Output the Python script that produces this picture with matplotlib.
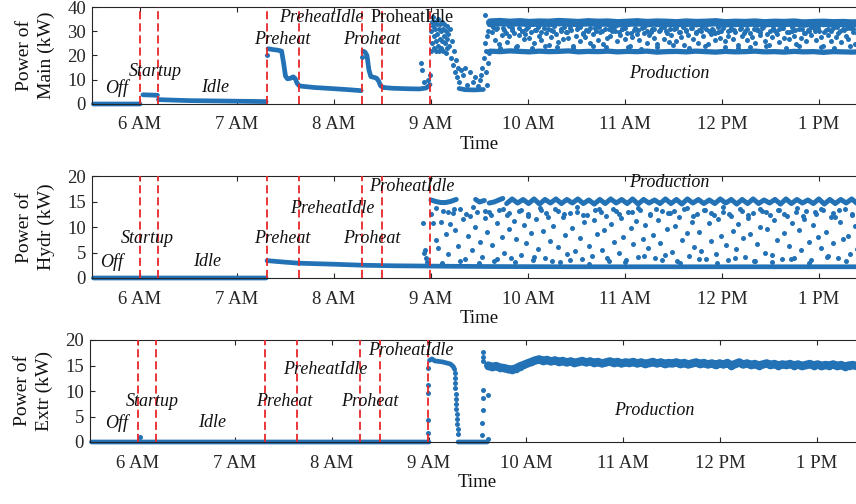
import numpy as np
import matplotlib
matplotlib.use('Agg')
import matplotlib.pyplot as plt

plt.rcParams['font.family'] = ['Liberation Serif', 'DejaVu Serif']

nan = np.nan
blue = '#2372b6'
red = '#e8262b'

# phase boundaries in hours of the day
phase_edges = [6.0, 6.19, 7.31, 7.64, 8.29, 8.495, 8.99]
tick_hours = [6, 7, 8, 9, 10, 11, 12, 13]
tick_names = ['6 AM', '7 AM', '8 AM', '9 AM', '10 AM', '11 AM', '12 PM', '1 PM']
phase_names = ['Off', 'Startup', 'Idle', 'Preheat', 'PreheatIdle', 'Proheat', 'ProheatIdle', 'Production']

# ---------------- Main ----------------
main_trace_t = [5.52, 6.0, nan, 6.03, 6.18, nan, 6.19, 6.5, 6.9, 7.30, nan,
                7.32, 7.36, 7.42, 7.46, 7.48, 7.50, 7.52, 7.55, 7.58, 7.60, 7.62, 7.64, nan,
                7.65, 7.8, 8.0, 8.15, 8.28, nan,
                8.30, 8.32, 8.34, 8.36, 8.38, 8.42, 8.44, 8.46, 8.48, 8.50, nan,
                8.51, 8.6, 8.75, 8.88, 8.95, 8.99, nan,
                9.29, 9.35, 9.45, 9.54]
main_trace_v = [0, 0, nan, 3.8, 3.6, nan, 1.8, 1.4, 1.2, 1.0, nan,
                22.8, 22.5, 22.2, 21.8, 17, 11.5, 10.4, 10.6, 11.2, 10.5, 8.5, 7.6, nan,
                7.4, 6.8, 6.3, 5.9, 5.5, nan,
                21.8, 21.4, 20.0, 14, 11.3, 10.9, 10.6, 9.5, 7.5, 7.0, nan,
                6.8, 6.5, 6.3, 6.2, 6.6, 8.0, nan,
                6.4, 5.9, 5.8, 6.0]
main_pts_t = [7.31, 8.29, 8.90, 8.91, 8.93, 8.97, 8.99,
              9.00, 9.00, 9.01, 9.01, 9.02, 9.02, 9.03, 9.03, 9.04, 9.04, 9.05, 9.05, 9.06, 9.06,
              9.07, 9.07, 9.08, 9.08, 9.09, 9.09, 9.10, 9.10, 9.11, 9.11, 9.12, 9.12, 9.13, 9.13,
              9.14, 9.15, 9.15, 9.16, 9.17, 9.17, 9.18, 9.19, 9.20, 9.21, 9.22, 9.23, 9.24, 9.25,
              9.26, 9.27, 9.28, 9.29, 9.31, 9.33, 9.35, 9.37, 9.40, 9.43, 9.45, 9.48, 9.50, 9.52,
              9.53, 9.55, 9.555, 9.56, 9.565, 9.57, 9.575, 9.58, 9.585, 9.59, 9.595, 9.60]
main_pts_v = [20.0, 19.5, 17, 14, 9, 10, 12,
              22, 30, 34, 25, 36, 32, 28, 23, 34, 31, 26, 22, 33, 29,
              24, 35, 31, 22, 27, 33, 30, 23, 34, 26, 31, 22, 28, 33,
              25, 30, 21, 27, 32, 23, 29, 24, 31, 19, 26, 16, 22, 13,
              18, 11, 15, 9, 14, 12, 15, 8, 13, 9, 11, 7.5, 10, 12,
              15, 19, 36.5, 25, 22, 13, 8, 28, 17, 30, 21, 33]
main_top_v = [33.6, 33.8, 33.5, 33.7, 33.4, 33.6, 33.5, 33.8, 33.6, 33.4,
              33.7, 33.5, 33.6, 33.3, 33.5, 33.7, 33.4, 33.6, 33.5, 33.3,
              33.6, 33.4, 33.5, 33.7, 33.3, 33.5, 33.4, 33.6, 33.3, 33.5,
              33.4, 33.6, 33.2, 33.4, 33.5, 33.3, 33.4, 33.2, 33.4]
main_low_v = [21.8, 21.6, 21.9, 21.7, 21.5, 21.8, 21.6, 21.7, 21.9, 21.5,
              21.7, 21.6, 21.8, 21.5, 21.7, 21.6, 21.8, 21.4, 21.6, 21.7,
              21.5, 21.8, 21.6, 21.4, 21.7, 21.5, 21.6, 21.8, 21.5, 21.6,
              21.4, 21.7, 21.5, 21.6, 21.3, 21.6, 21.5, 21.4, 21.6]
main_mid_v = [29.8, 26.5, 31.2, 24.6, 28.3, 30.7, 25.4, 27.9, 31.5, 29.1,
              23.9, 28.6, 30.2, 26.8, 31.0, 27.3, 29.6, 25.1, 30.5, 28.0,
              26.2, 31.4, 29.3, 24.4, 27.7, 30.1, 28.8, 25.7, 31.1, 26.9,
              29.5, 27.1, 30.6, 24.1, 28.2, 31.6, 26.0, 29.0, 27.6, 30.3,
              25.2, 28.7, 31.3, 26.4, 29.7, 24.8, 30.8, 27.2, 28.1, 31.5,
              30.0, 25.9, 28.4, 31.0, 26.6, 29.4, 23.8, 27.8, 30.4, 28.9,
              26.3, 31.2, 29.2, 25.0, 28.5, 30.9, 27.4, 24.7, 29.9, 31.4,
              27.0, 30.1, 25.6, 28.6, 31.1, 26.1, 29.8, 27.5, 24.3, 30.6,
              28.3, 31.5, 26.7, 29.1, 25.3, 30.2, 27.9, 31.0, 24.9, 28.8,
              30.7, 26.2, 29.5, 27.2, 31.3, 25.8, 28.1, 30.4, 26.9, 29.6,
              24.5, 31.1, 28.0, 30.0, 26.5, 29.3, 27.7, 25.1, 30.8, 28.4,
              31.4, 26.0, 29.0, 24.2, 27.6, 30.5, 28.7, 25.5, 31.2, 27.1,
              29.7, 26.8, 30.3, 28.2, 24.7, 31.0, 27.3, 29.4, 25.9, 30.1,
              28.6, 31.5, 26.4, 29.9, 27.8, 24.0, 30.6, 28.3, 26.1, 31.2,
              27.5, 29.2, 25.4, 30.9, 28.0, 26.7, 31.3, 29.6, 24.6, 28.9]
main_mid2_v = [31.8, 30.9, 23.2, 31.5, 29.4, 32.0, 30.6, 23.6, 31.2, 30.2,
               29.0, 31.7, 22.9, 30.4, 31.9, 29.8, 24.1, 31.0, 30.7, 32.1,
               23.4, 30.1, 31.6, 29.6, 31.3, 23.0, 30.8, 31.9, 29.2, 30.5,
               31.4, 24.0, 30.0, 31.8, 29.9, 23.3, 31.1, 30.3, 32.0, 29.5,
               30.9, 31.5, 23.7, 29.3, 31.2, 30.6, 22.8, 31.7, 30.2, 29.7,
               31.0, 23.5, 30.4, 31.9, 29.1, 30.8, 24.2, 31.3, 29.8, 31.6,
               30.1, 23.1, 31.4, 29.6, 30.7, 31.8, 23.8, 30.3, 31.1, 29.4,
               31.7, 30.0, 23.4, 29.9, 31.5, 30.5, 22.9, 31.2, 29.3, 30.9,
               23.6, 31.0, 30.6, 29.5, 31.8, 24.0, 30.2, 31.4, 29.7, 30.8,
               31.3, 23.2, 29.8, 31.6, 30.4, 23.9, 31.1, 29.2, 30.7, 31.9,
               30.3, 31.5, 23.5, 29.6, 31.0, 30.1, 23.0, 31.7, 29.9, 30.5,
               31.2, 24.1, 30.8, 29.4, 31.6]

# ---------------- Hydr ----------------
hydr_trace_t = [5.52, 7.30, nan, 7.31, 7.5, 7.64, 8.0, 8.3, 8.6, 8.9, 9.2, 9.6, 10.5, 11.5, 12.5, 13.5]
hydr_trace_v = [0, 0, nan, 3.4, 3.1, 2.9, 2.7, 2.5, 2.4, 2.35, 2.3, 2.25, 2.2, 2.2, 2.2, 2.2]
hydr_top_a_t = [9.0, 9.05, 9.10, 9.15, 9.20, 9.26, nan, 9.46, 9.50, 9.55, nan, 9.60, 9.65, 9.70, 9.74]
hydr_top_a_v = [15.3, 15.0, 14.8, 14.8, 15.0, 15.4, nan, 15.4, 14.9, 15.2, nan, 14.7, 14.9, 15.3, 15.6]
hydr_top_v = [14.6, 15.5, 14.7, 15.4, 14.6, 15.5, 14.5, 15.4, 14.7, 15.5,
              14.6, 15.4, 14.7, 15.5, 14.6, 15.3, 14.5, 15.4, 14.6, 15.5,
              14.7, 15.4, 14.6, 15.5, 14.5, 15.4, 14.7, 15.3, 14.6, 15.5,
              14.6, 15.4, 14.5, 15.5, 14.7, 15.4, 14.6, 15.3, 14.6, 15.5,
              14.7, 15.4, 14.5, 15.4, 14.6, 15.5, 14.6, 15.3, 14.7, 15.4,
              14.5, 15.5, 14.6, 15.4, 14.7, 15.3, 14.6, 15.5, 14.5, 15.4,
              14.6, 15.4, 14.7, 15.5, 14.6, 15.3]
hydr_pts_t = [8.92, 8.93, 8.94, 8.95, 8.96]
hydr_pts_v = [10.8, 5.0, 5.5, 4.0, 3.2]
hydr_mid_v = [12.5, 10.8, 7.5, 5.9, 11.0, 13.2, 8.6, 4.8, 10.5, 12.8,
              9.5, 6.2, 13.5, 11.6, 3.8, 8.2, 12.1, 5.4, 10.0, 13.0,
              7.1, 4.2, 11.8, 9.0, 12.9, 6.5, 3.4, 10.7, 13.4, 8.0,
              5.0, 12.3, 9.7, 3.9, 11.2, 7.6, 13.1, 4.5, 10.3, 6.8,
              12.6, 8.9, 3.5, 11.5, 5.7, 13.3, 9.2, 4.0, 12.0, 7.3,
              10.1, 13.6, 6.0, 3.2, 11.9, 8.4, 4.7, 12.7, 9.8, 5.2,
              13.0, 7.9, 3.7, 10.9, 12.4, 6.3, 4.4, 11.3, 8.7, 13.5,
              5.5, 9.4, 12.2, 3.3, 10.6, 7.0, 13.2, 4.9, 11.7, 8.1,
              3.6, 12.9, 9.9, 6.6, 11.1, 4.1, 13.4, 7.7, 10.4, 5.8,
              12.5, 8.5, 3.9, 11.4, 6.9, 13.1, 4.6, 9.6, 12.8, 5.1,
              10.2, 3.4, 12.0, 7.4, 13.6, 8.8, 4.3, 11.0, 6.1, 12.6,
              9.1, 5.3, 13.3, 3.8, 10.8, 7.2, 12.3, 4.8, 11.6, 8.3,
              13.0, 6.4, 3.5, 12.1, 9.3, 5.6, 10.5, 13.5, 7.8, 4.2,
              11.8, 8.6, 12.7, 3.3, 6.7, 10.0, 13.2, 5.0, 9.7, 12.4,
              4.5, 11.3, 7.5, 13.4, 3.7, 8.9, 12.2, 6.2, 10.7, 4.0,
              12.9, 9.5, 5.4, 11.5, 13.1, 7.0, 3.6, 10.3, 12.6, 8.0,
              5.9, 13.3, 9.0, 4.4, 11.9, 6.8, 12.0, 3.9, 10.9, 7.6,
              13.5, 8.2, 4.7, 12.5, 10.1, 5.7, 11.4]
hydr_mid2_v = [13.8, 3.0, 12.9, 13.5, 3.4, 12.6, 13.9, 2.9, 13.2, 12.4,
               3.7, 13.6, 12.8, 3.1, 13.4, 12.2, 4.1, 13.7, 12.7, 3.3,
               13.1, 12.5, 3.6, 13.9, 12.3, 2.8, 13.3, 12.9, 3.9, 13.6,
               12.6, 3.2, 13.0, 13.8, 4.3, 12.4, 13.5, 3.5, 12.8, 13.2,
               2.9, 13.7, 12.1, 3.8, 13.4, 12.7, 3.0, 13.9, 12.5, 4.0,
               13.1, 12.3, 3.4, 13.6, 12.9, 3.1, 13.3, 12.6, 3.7, 13.8,
               12.2, 2.9, 13.0, 13.5, 4.2, 12.8, 13.4, 3.3, 12.4, 13.7]

# ---------------- Extr ----------------
extr_trace_t = [5.52, 9.0, nan, 9.005, 9.03, 9.06, 9.10, 9.14, 9.18, 9.22, 9.25, 9.265, nan, 9.30, 9.60]
extr_trace_v = [0, 0, nan, 16.0, 16.3, 15.9, 15.8, 15.7, 15.5, 15.3, 14.8, 14.2, nan, 0, 0]
extr_pts_t = [6.02, 8.99, 8.99, 8.99, 8.99, 8.99,
              9.265, 9.268, 9.27, 9.272, 9.275, 9.278, 9.28, 9.283, 9.286, 9.29, 9.293, 9.296, 9.30,
              9.545, 9.55, 9.552, 9.555, 9.555, 9.555, 9.558, 9.56, 9.61, 9.61]
extr_pts_v = [1.0, 14.5, 11.2, 9.6, 4.3, 1.8,
              13.5, 12.5, 11.5, 10.5, 9.5, 8.5, 7.5, 6.5, 5.5, 4.5, 3.5, 2.5, 1.5,
              1.4, 3.7, 6.3, 8.6, 10.2, 17.6, 16.6, 15.8, 9.2, 0.5]
extr_band_v = [15.0, 14.7, 14.9, 14.6, 14.5, 14.3, 14.2, 14.4,
               14.8, 15.1, 15.4, 15.7, 16.0, 16.2, 15.9, 16.1, 15.8, 16.0,
               15.7, 15.9, 15.6, 15.8, 15.5, 15.7, 15.9, 15.6, 15.8, 15.5,
               15.7, 15.4, 15.6, 15.8, 15.5, 15.7, 15.4, 15.6, 15.5, 15.7,
               15.4, 15.6, 15.3, 15.5, 15.7, 15.4, 15.6, 15.3, 15.5, 15.4,
               15.6, 15.3, 15.5, 15.2, 15.4, 15.6, 15.3, 15.5, 15.2, 15.4,
               15.1, 15.4, 15.2, 15.5, 15.0, 15.3, 15.6, 15.2, 15.4, 15.1,
               15.3, 15.0, 15.2, 15.4, 15.1, 15.3, 15.0, 15.2, 15.1, 15.3,
               15.0, 15.2, 14.9, 15.1, 15.3, 15.0, 15.2, 14.9, 15.1, 15.0,
               15.2, 14.9, 15.1, 14.8, 15.0, 15.1, 14.9, 15.0]

# label positions (hour, value) per panel
main_lbl_t = [5.76, 6.155, 6.77, 7.47, 7.87, 8.39, 8.80, 11.46]
main_lbl_v = [6.6, 13.2, 7.0, 26.7, 35.8, 26.7, 35.8, 12.7]
hydr_lbl_t = [5.71, 6.07, 6.69, 7.47, 7.98, 8.39, 8.80, 11.46]
hydr_lbl_v = [3.1, 7.8, 3.3, 7.8, 13.7, 7.8, 18.0, 18.8]
extr_lbl_t = [5.78, 6.15, 6.76, 7.51, 7.93, 8.39, 8.81, 11.32]
extr_lbl_v = [3.7, 8.0, 3.9, 8.0, 14.3, 8.0, 18.0, 6.1]

fig = plt.figure(figsize=(8.56, 5.04), dpi=100, facecolor='white')
W = 856.0
H = 504.0
ax1 = fig.add_axes([91.5 / W, 1 - 104 / H, 776 / W, 97 / H])
ax2 = fig.add_axes([91.5 / W, 1 - 278 / H, 776 / W, 102 / H])
ax3 = fig.add_axes([89.5 / W, 1 - 442 / H, 776 / W, 102 / H])


def band(ax, t, v, lw):
    ax.plot(t, v, '-', color=blue, lw=lw, solid_capstyle='round', clip_on=False, zorder=2)


def dots(ax, t, v, ms=3.6):
    ax.plot(t, v, 'o', color=blue, ms=ms, mew=0, clip_on=False, zorder=2)


# Main
band(ax1, main_trace_t, main_trace_v, 3.4)
dots(ax1, main_pts_t, main_pts_v)
top_t = np.linspace(9.61, 13.45, len(main_top_v))
band(ax1, top_t, main_top_v, 6.0)
dots(ax1, top_t, main_top_v, 5.5)
low_t = np.linspace(9.61, 13.45, len(main_low_v))
band(ax1, low_t, main_low_v, 3.8)
dots(ax1, np.linspace(9.63, 13.40, len(main_mid_v)), main_mid_v)
dots(ax1, np.linspace(9.64, 13.42, len(main_mid2_v)), main_mid2_v)

# Hydr
band(ax2, hydr_trace_t, hydr_trace_v, 3.4)
band(ax2, hydr_top_a_t, hydr_top_a_v, 3.6)
band(ax2, np.linspace(9.78, 13.45, len(hydr_top_v)), hydr_top_v, 3.6)
dots(ax2, hydr_pts_t, hydr_pts_v)
dots(ax2, np.linspace(9.0, 13.42, len(hydr_mid_v)), hydr_mid_v)
dots(ax2, np.linspace(9.05, 13.40, len(hydr_mid2_v)), hydr_mid2_v)

# Extr
band(ax3, extr_trace_t, extr_trace_v, 3.4)
dots(ax3, extr_pts_t, extr_pts_v)
ext_t = np.linspace(9.61, 13.45, len(extr_band_v))
band(ax3, ext_t, extr_band_v, 6.0)
dots(ax3, ext_t, extr_band_v, 5.5)

panels = [(ax1, 'Main', 40, [0, 10, 20, 30, 40], main_lbl_t, main_lbl_v),
          (ax2, 'Hydr', 20, [0, 5, 10, 15, 20], hydr_lbl_t, hydr_lbl_v),
          (ax3, 'Extr', 20, [0, 5, 10, 15, 20], extr_lbl_t, extr_lbl_v)]

for k, (ax, name, ymax, yt, lt, lv) in enumerate(panels):
    for x in phase_edges:
        ax.axvline(x, color=red, ls=(0, (4.5, 2.2)), lw=1.3, zorder=3)
    for i in range(len(phase_names)):
        upright = (k == 0 and phase_names[i] == 'ProheatIdle')
        ax.text(lt[i], lv[i], phase_names[i], fontsize=13,
                style='normal' if upright else 'italic',
                ha='center', va='center', color='#111111', zorder=4)
    ax.set_xlim(5.5, 13.5)
    ax.set_ylim(0, ymax)
    ax.set_xticks(tick_hours)
    ax.set_xticklabels(tick_names)
    ax.set_yticks(yt)
    ax.tick_params(direction='in', top=True, right=True, length=3.5, width=0.8,
                   labelsize=13.5, colors='#262626')
    ax.tick_params(axis='x', pad=9)
    ax.tick_params(axis='y', pad=4)
    for s in ax.spines.values():
        s.set_color('#262626')
        s.set_linewidth(0.8)
    ax.set_xlabel('Time', fontsize=13.5, labelpad=2, color='#111111')
    ax.set_ylabel('Power of\n' + name + ' (kW)', fontsize=14, labelpad=9,
                  linespacing=1.3, color='#111111')

fig.savefig('out.png', dpi=100, facecolor='white')
